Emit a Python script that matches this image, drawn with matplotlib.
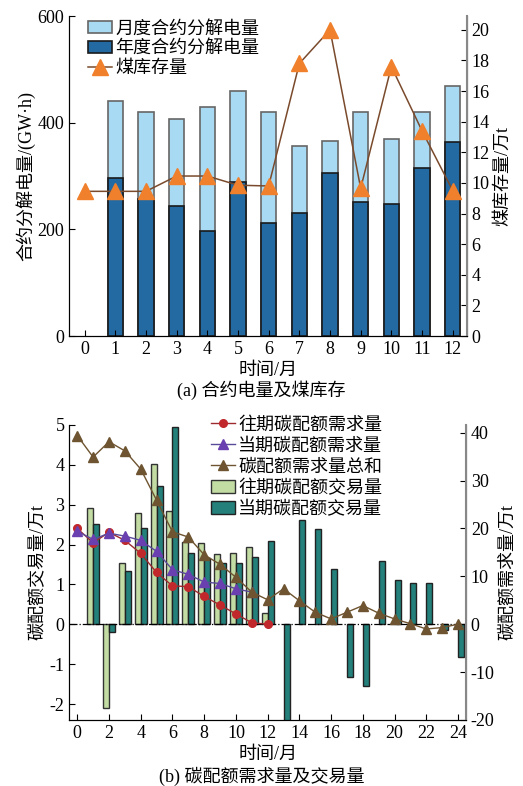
import matplotlib.pyplot as plt
import numpy as np

plt.rcParams['font.family'] = ['Liberation Serif', 'Noto Sans CJK SC']
plt.rcParams['axes.unicode_minus'] = False
plt.rcParams['font.size'] = 13

# (a) contract electricity and coal stock
months_a = np.arange(0, 13)
bar_months_a = np.arange(1, 13)
monthly_total = [440, 420, 407, 429, 460, 420, 356, 365, 420, 369, 420, 469]
yearly = [296, 256, 244, 197, 289, 211, 231, 306, 252, 247, 315, 364]
coal_stock = [9.45, 9.45, 9.45, 10.45, 10.45, 9.85, 9.8, 17.8, 20.0, 9.65, 17.6, 13.4, 9.5]

# (b) carbon quota demand and trading
months_b = np.arange(0, 25)
past_months = np.arange(1, 13)
past_trade = [2.92, -2.09, 1.55, 2.79, 4.01, 2.84, 2.07, 2.05, 1.77, 1.79, 1.95, 0.28]
cur_months = np.arange(1, 25)
cur_trade = [2.52, -0.2, 1.34, 2.41, 3.46, 4.95, 1.8, 1.67, 1.53, 1.54, 1.68, 2.1,
             -2.5, 2.61, 2.39, 1.38, -1.31, -1.56, 1.6, 1.1, 1.04, 1.03, -0.15, -0.81]
past_demand = [20.0, 17.0, 19.2, 17.5, 14.8, 10.8, 8.0, 7.85, 5.8, 4.0, 2.15, 0.3, 0.0]
cur_demand = [19.4, 17.7, 19.0, 18.4, 17.5, 15.2, 11.4, 10.4, 8.8, 8.5, 7.4, 6.7]
total_demand = [39.4, 34.9, 38.1, 36.2, 32.4, 25.9, 19.3, 18.2, 14.5, 12.5, 9.8, 6.7,
                5.1, 7.4, 4.9, 2.5, 1.1, 2.5, 3.9, 2.3, 1.1, 0.1, -1.0, -0.7, 0.0]

fig = plt.figure(figsize=(5.23, 7.86), dpi=100)

# ---------- (a) ----------
ax1 = fig.add_axes([0.1325, 0.5725, 0.7595, 0.4071])
ax1.bar(bar_months_a, monthly_total, width=0.5, color='#a8daf4', edgecolor='#666666',
        linewidth=1.2, label='月度合约分解电量')
ax1.bar(bar_months_a, yearly, width=0.5, color='#246aa2', edgecolor='#1a1a1a',
        linewidth=1.2, label='年度合约分解电量')
ax1.set_xlim(-0.5, 12.45)
ax1.set_ylim(0, 600)
ax1.set_yticks([0, 200, 400, 600])
ax1.set_xticks(months_a)
ax1.set_ylabel('合约分解电量/(GW·h)', labelpad=2)
ax1.set_xlabel('时间/月', labelpad=3)
ax1.spines['top'].set_visible(False)
ax1.tick_params(direction='in', length=4)

ax1r = ax1.twinx()
ax1r.plot(months_a, coal_stock, color='#7a4a2c', linewidth=1.1, marker='^',
          markersize=11, markerfacecolor='#f0802c', markeredgecolor='#f0802c',
          label='煤库存量')
ax1r.set_ylim(0, 20.9)
ax1r.set_yticks(np.arange(0, 21, 2))
ax1r.set_ylabel('煤库存量/万t', labelpad=3)
ax1r.spines['top'].set_visible(False)
ax1r.spines['right'].set_color('#888888')
ax1r.spines['right'].set_linewidth(1.5)
ax1r.tick_params(direction='in', length=4)

h1, l1 = ax1.get_legend_handles_labels()
h2, l2 = ax1r.get_legend_handles_labels()
ax1.legend(h1 + h2, l1 + l2, loc='upper left', bbox_to_anchor=(0.02, 1.02),
           frameon=False, handlelength=1.3, handletextpad=0.2, labelspacing=0.15,
           borderaxespad=0.2)
fig.text(0.5, 0.503, '(a) 合约电量及煤库存', ha='center', va='center')

# ---------- (b) ----------
ax2 = fig.add_axes([0.1325, 0.084, 0.7585, 0.3753])
w = 0.38
ax2.bar(past_months - w / 2, past_trade, width=w, color='#c2dca4', edgecolor='#333333',
        linewidth=1.0, label='往期碳配额交易量')
ax2.bar(cur_months + w / 2, cur_trade, width=w, color='#23807b', edgecolor='#222222',
        linewidth=1.0, label='当期碳配额交易量')
ax2.axhline(0, color='black', linestyle='-.', linewidth=0.9)
ax2.set_xlim(-0.5, 24.5)
ax2.set_ylim(-2.4, 5.0)
ax2.set_yticks(np.arange(-2, 6, 1))
ax2.set_xticks(np.arange(0, 25, 2))
ax2.set_ylabel('碳配额交易量/万t', labelpad=2)
ax2.set_xlabel('时间/月', labelpad=3)
ax2.spines['top'].set_visible(False)
ax2.tick_params(direction='in', length=4)

ax2r = ax2.twinx()
ax2r.plot(months_b[:len(past_demand)], past_demand, color='#9c2a2e', linewidth=1.0,
          marker='o', markersize=5.5, markerfacecolor='#c0282c', markeredgecolor='#c0282c',
          label='往期碳配额需求量')
ax2r.plot(months_b[:len(cur_demand)], cur_demand, color='#5a4a9a', linewidth=1.0,
          marker='^', markersize=6.5, markerfacecolor='#6a3fb0', markeredgecolor='#6a3fb0',
          label='当期碳配额需求量')
ax2r.plot(months_b, total_demand, color='#6e5430', linewidth=1.0,
          marker='^', markersize=6.5, markerfacecolor='#6e5430', markeredgecolor='#6e5430',
          label='碳配额需求量总和')
ax2r.set_ylim(-20, 41.6)
ax2r.set_yticks(np.arange(-20, 41, 10))
ax2r.set_ylabel('碳配额需求量/万t', labelpad=3)
ax2r.spines['top'].set_visible(False)
ax2r.spines['right'].set_color('#888888')
ax2r.spines['right'].set_linewidth(1.5)
ax2r.tick_params(direction='in', length=4)

h1, l1 = ax2.get_legend_handles_labels()
h2, l2 = ax2r.get_legend_handles_labels()
ax2.legend(h2 + h1, l2 + l1, loc='upper left', bbox_to_anchor=(0.33, 1.065),
           frameon=False, handlelength=1.3, handletextpad=0.2, labelspacing=0.22,
           borderaxespad=0.2)
fig.text(0.5, 0.012, '(b) 碳配额需求量及交易量', ha='center', va='center')

fig.savefig('out.png', dpi=100)
